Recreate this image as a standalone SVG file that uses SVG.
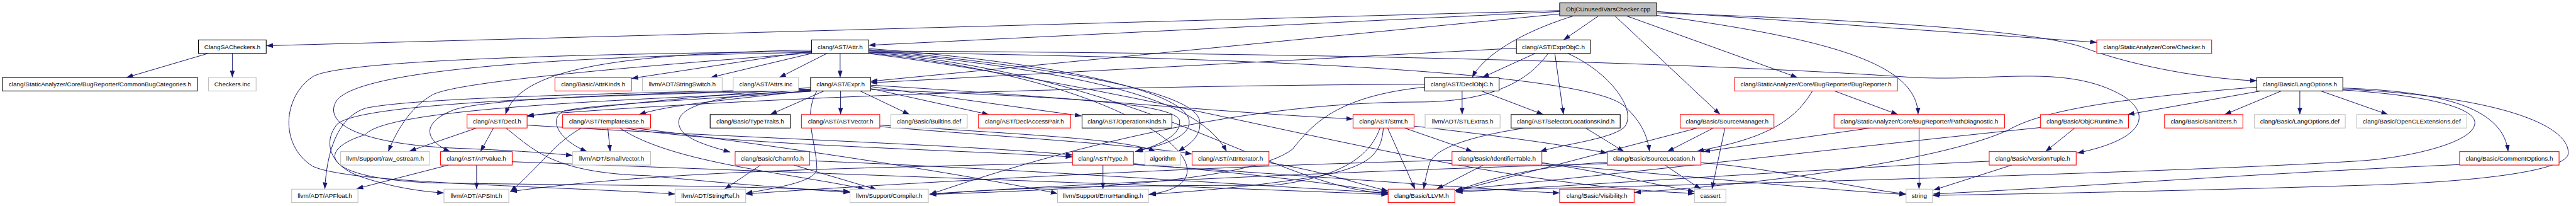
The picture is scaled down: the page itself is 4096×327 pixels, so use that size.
<svg xmlns="http://www.w3.org/2000/svg" width="4096" height="327" viewBox="0 0 4096 327">
<defs>
<style>
.node rect{fill:#fff;stroke-width:1.4}
.k rect{stroke:#000}
.r rect{stroke:#ff0000}
.g rect{stroke:#bfbfbf}
.root rect{fill:#bfbfbf;stroke:#000}
.node text{font-family:"Liberation Sans",Arial,Helvetica,sans-serif;font-size:13px;fill:#000;text-anchor:middle}
#edges path{fill:none;stroke:#191970;stroke-width:1.3;marker-end:url(#a)}
</style>
<marker id="a" markerUnits="userSpaceOnUse" viewBox="0 0 14 10" markerWidth="14" markerHeight="10" refX="14" refY="5" orient="auto"><path d="M0,0L14,5L0,10z" fill="#191970"/></marker>
</defs>
<rect width="4096" height="327" fill="#fff"/>
<g transform="scale(0.764)">
<g id="edges">
<path d="M3246,22 L554,95"/>
<path d="M3246,24 L1808,94"/>
<path d="M3327,33 L3254,83"/>
<path d="M3448,24 L4364,88"/>
<path d="M3246,29 L1812,169"/>
<path d="M3275,33 C3180,62 3090,110 3064,161"/>
<path d="M3385,33 L3741,161"/>
<path d="M3448,27 C4000,45 4260,70 4340,100 C4420,130 4560,162 4697,168"/>
<path d="M3361,33 L3580,238"/>
<path d="M3448,32 C3800,80 3990,130 3992,238"/>
<path d="M433,111 L263,161"/>
<path d="M483.5,111 L483.5,161"/>
<path d="M1748.5,111 L1748.5,161"/>
<path d="M1721,111 L1622,161"/>
<path d="M1689,111 L1479,161"/>
<path d="M1689,106 L1314,163"/>
<path d="M1689,104 C1250,112 1080,150 1052,238"/>
<path d="M1808,101 C2200,130 2470,190 2475,252 C2478,290 2400,305 2362,315"/>
<path d="M1808,103 C2200,140 2490,190 2497,252 C2500,285 2475,300 2452,315"/>
<path d="M1808,105 C2250,150 2490,200 2553,315"/>
<path d="M1808,108 C2400,160 2650,390 2889,402"/>
<path d="M1808,109 C2600,118 3300,150 3380,220 C3420,255 3430,290 3433,315"/>
<path d="M1808,106 C2700,110 3500,128 3967,160 C4150,172 4300,130 4420,200 C4480,240 4460,290 4323,318"/>
<path d="M1689,109 C1100,118 740,150 700,210 C670,260 760,300 950,308 C1080,313 1140,318 1192,323"/>
<path d="M1689,107 C1200,112 700,125 650,160 C590,200 580,300 650,345 C720,380 1100,385 1405,403"/>
<path d="M1808,110 C2400,170 2600,380 2390,404"/>
<path d="M1689,110 C1300,140 950,170 900,197 C860,220 830,260 808,315"/>
<path d="M1808,111 C2500,200 3000,380 3527,402"/>
<path d="M3156,100 L1812,172"/>
<path d="M3195,111 L3085,161"/>
<path d="M3236,111 L3254,238"/>
<path d="M3263,111 C3350,150 3410,230 3380,265 C3350,290 3250,300 3205,315"/>
<path d="M3222,111 C3180,170 3100,212 2950,212 C2550,212 2150,330 1935,404"/>
<path d="M1749.5,189 L1749.5,238"/>
<path d="M1715,189 L1603,238"/>
<path d="M1790,189 L1893,238"/>
<path d="M1812,184 L2058,238"/>
<path d="M1812,180 L2251,241"/>
<path d="M1812,177 C2200,200 2600,238 2816,247"/>
<path d="M1687,182 C1400,205 1200,225 1097,242"/>
<path d="M1690,187 C1550,205 1400,215 1330,238"/>
<path d="M1687,186 C1300,195 1000,205 940,230 C880,255 880,290 937,315"/>
<path d="M1687,187 C1450,198 1400,230 1415,265 C1425,290 1480,305 1520,316"/>
<path d="M1812,186 C2150,200 2440,210 2455,250 C2460,285 2400,305 2365,315"/>
<path d="M1687,185 C1200,195 850,205 760,225 C700,245 680,320 676,393"/>
<path d="M1687,188 C1100,200 730,220 700,260 C670,300 690,350 760,370 C820,390 880,398 924,401"/>
<path d="M1690,189 C1500,205 1250,215 1175,230 C1140,245 1160,290 1222,315"/>
<path d="M1700,189 C1670,240 1700,300 1700,350 C1700,380 1600,392 1552,402"/>
<path d="M1687,190 C1200,210 800,230 760,280 C660,310 660,370 900,380 C1200,385 1600,385 1769,398"/>
<path d="M3043,189 L3043,238"/>
<path d="M3083,189 L3212,238"/>
<path d="M2965,175 C2300,178 1600,200 1097,240"/>
<path d="M2965,181 C2780,200 2730,260 2690,310 C2600,380 2200,395 1935,404"/>
<path d="M3818,189 L3950,238"/>
<path d="M3772,189 C3730,260 3660,290 3532,314"/>
<path d="M3994,266 L3994,393"/>
<path d="M3893,266 L3545,315"/>
<path d="M3566,266 L3470,315"/>
<path d="M3590,266 L3563,393"/>
<path d="M3533,266 L3030,397"/>
<path d="M4748,189 L4630,238"/>
<path d="M4786.5,189 L4786.5,238"/>
<path d="M4830,189 L4970,238"/>
<path d="M4705,189 L4428,238"/>
<path d="M4697,181 C4400,205 4250,230 4180,270 C4050,330 3700,380 3401,400"/>
<path d="M4876,183 C5100,190 5210,230 5220,315"/>
<path d="M4876,187 C5080,200 5160,230 5150,260 C5140,300 5000,330 4900,335 C4500,360 3500,385 3028,396"/>
<path d="M4876,185 C5200,200 5350,260 5345,320 C5340,350 5200,375 4950,384 C4500,398 4200,403 4022,406"/>
<path d="M5119,342 C4700,360 4300,390 4024,403"/>
<path d="M4318,266 L4257,315"/>
<path d="M4247,265 C3900,300 3300,370 3030,394"/>
<path d="M4140,335 C3800,350 3300,385 3030,399"/>
<path d="M4187,343 L4024,395"/>
<path d="M1027,266 L1000,315"/>
<path d="M992,266 L852,314"/>
<path d="M1097,260 C1500,285 2000,300 2232,322"/>
<path d="M1053,266 C1110,310 1150,360 1350,365 C1500,380 1650,392 1769,400"/>
<path d="M1265,266 L1270,315"/>
<path d="M1210,266 C1150,300 1120,350 1062,398"/>
<path d="M1300,266 C1500,300 2000,312 2232,326"/>
<path d="M1290,266 C1400,340 1650,360 1800,393"/>
<path d="M1320,266 C1600,300 2000,360 2201,402"/>
<path d="M1831,263 C2100,285 2350,300 2481,320"/>
<path d="M1831,260 C2150,280 2350,290 2405,315"/>
<path d="M2923,266 L3065,315"/>
<path d="M2888,266 L2945,393"/>
<path d="M2943,262 C3100,280 3250,300 3345,318"/>
<path d="M2872,266 C2850,330 2780,370 2650,385 C2300,385 2100,390 1935,404"/>
<path d="M2879,266 C2875,320 2850,345 2750,365 C2600,390 2450,400 2392,404"/>
<path d="M3173,266 C3050,285 2985,310 2975,340 C2968,365 2965,380 2963,393"/>
<path d="M3300,266 L3380,315"/>
<path d="M992,343 L992,393"/>
<path d="M933,343 L742,392"/>
<path d="M1066,336 C1700,360 2400,385 2889,404"/>
<path d="M1583,343 L1508,393"/>
<path d="M1685,334 C2100,350 2600,385 2889,401"/>
<path d="M1652,343 L1825,394"/>
<path d="M2295.5,343 L2295.5,393"/>
<path d="M2359,340 C2600,360 2800,385 2889,400"/>
<path d="M2359,342 C2800,370 3100,395 3246,401"/>
<path d="M2232,338 C1800,350 1400,352 1062,398"/>
<path d="M2641,338 C2750,355 2820,380 2889,397"/>
<path d="M3087,343 L2990,393"/>
<path d="M3022,333 C2500,345 1800,385 1552,403"/>
<path d="M3209,338 C3350,360 3450,385 3527,398"/>
<path d="M3209,340 C3500,365 3800,395 3967,404"/>
<path d="M3465,343 L3540,393"/>
<path d="M3345,337 C3200,345 3100,370 3030,397"/>
<path d="M3345,340 C2800,355 2200,385 1935,403"/>
<path d="M3540,338 C3700,350 3850,390 3967,403"/>
</g>
<g id="n0" class="node root"><rect x="3246" y="6" width="202" height="27"/><text x="3347" y="23.5">ObjCUnusedIVarsChecker.cpp</text></g>
<g id="n1" class="node k"><rect x="413" y="83" width="141" height="28"/><text x="483.5" y="101.5">ClangSACheckers.h</text></g>
<g id="n2" class="node k"><rect x="1689" y="83" width="119" height="28"/><text x="1748.5" y="101.5">clang/AST/Attr.h</text></g>
<g id="n3" class="node k"><rect x="3156" y="83" width="154" height="28"/><text x="3233" y="101.5">clang/AST/ExprObjC.h</text></g>
<g id="n4" class="node r"><rect x="4364" y="83" width="239" height="28"/><text x="4483.5" y="101.5">clang/StaticAnalyzer/Core/Checker.h</text></g>
<g id="n5" class="node k"><rect x="5" y="161" width="406" height="28"/><text x="208" y="179.5">clang/StaticAnalyzer/Core/BugReporter/CommonBugCategories.h</text></g>
<g id="n6" class="node g"><rect x="434" y="161" width="99" height="28"/><text x="483.5" y="179.5">Checkers.inc</text></g>
<g id="n7" class="node r"><rect x="1155" y="161" width="159" height="28"/><text x="1234.5" y="179.5">clang/Basic/AttrKinds.h</text></g>
<g id="n8" class="node g"><rect x="1337" y="161" width="166" height="28"/><text x="1420" y="179.5">llvm/ADT/StringSwitch.h</text></g>
<g id="n9" class="node g"><rect x="1526" y="161" width="136" height="28"/><text x="1594" y="179.5">clang/AST/Attrs.inc</text></g>
<g id="n10" class="node k"><rect x="1687" y="161" width="125" height="28"/><text x="1749.5" y="179.5">clang/AST/Expr.h</text></g>
<g id="n11" class="node k"><rect x="2965" y="161" width="155" height="28"/><text x="3042.5" y="179.5">clang/AST/DeclObjC.h</text></g>
<g id="n12" class="node r"><rect x="3610" y="161" width="339" height="28"/><text x="3779.5" y="179.5">clang/StaticAnalyzer/Core/BugReporter/BugReporter.h</text></g>
<g id="n13" class="node k"><rect x="4697" y="161" width="179" height="28"/><text x="4786.5" y="179.5">clang/Basic/LangOptions.h</text></g>
<g id="n14" class="node r"><rect x="972" y="238" width="125" height="28"/><text x="1034.5" y="256.5">clang/AST/Decl.h</text></g>
<g id="n15" class="node r"><rect x="1171" y="238" width="183" height="28"/><text x="1262.5" y="256.5">clang/AST/TemplateBase.h</text></g>
<g id="n16" class="node k"><rect x="1478" y="238" width="167" height="28"/><text x="1561.5" y="256.5">clang/Basic/TypeTraits.h</text></g>
<g id="n17" class="node r"><rect x="1668" y="238" width="163" height="28"/><text x="1749.5" y="256.5">clang/AST/ASTVector.h</text></g>
<g id="n18" class="node g"><rect x="1854" y="238" width="159" height="28"/><text x="1933.5" y="256.5">clang/Basic/Builtins.def</text></g>
<g id="n19" class="node r"><rect x="2036" y="238" width="192" height="28"/><text x="2132" y="256.5">clang/AST/DeclAccessPair.h</text></g>
<g id="n20" class="node k"><rect x="2252" y="238" width="187" height="28"/><text x="2345.5" y="256.5">clang/AST/OperationKinds.h</text></g>
<g id="n21" class="node r"><rect x="2816" y="238" width="127" height="28"/><text x="2879.5" y="256.5">clang/AST/Stmt.h</text></g>
<g id="n22" class="node g"><rect x="2966" y="238" width="156" height="28"/><text x="3044" y="256.5">llvm/ADT/STLExtras.h</text></g>
<g id="n23" class="node k"><rect x="3145" y="238" width="227" height="28"/><text x="3258.5" y="256.5">clang/AST/SelectorLocationsKind.h</text></g>
<g id="n24" class="node r"><rect x="3497" y="238" width="195" height="28"/><text x="3594.5" y="256.5">clang/Basic/SourceManager.h</text></g>
<g id="n25" class="node r"><rect x="3817" y="238" width="355" height="28"/><text x="3994.5" y="256.5">clang/StaticAnalyzer/Core/BugReporter/PathDiagnostic.h</text></g>
<g id="n26" class="node r"><rect x="4247" y="238" width="183" height="28"/><text x="4338.5" y="256.5">clang/Basic/ObjCRuntime.h</text></g>
<g id="n27" class="node r"><rect x="4505" y="238" width="163" height="28"/><text x="4586.5" y="256.5">clang/Basic/Sanitizers.h</text></g>
<g id="n28" class="node g"><rect x="4692" y="238" width="189" height="28"/><text x="4786.5" y="256.5">clang/Basic/LangOptions.def</text></g>
<g id="n29" class="node g"><rect x="4905" y="238" width="229" height="28"/><text x="5019.5" y="256.5">clang/Basic/OpenCLExtensions.def</text></g>
<g id="n30" class="node g"><rect x="709" y="315" width="185" height="28"/><text x="801.5" y="333.5">llvm/Support/raw_ostream.h</text></g>
<g id="n31" class="node r"><rect x="917" y="315" width="149" height="28"/><text x="991.5" y="333.5">clang/AST/APValue.h</text></g>
<g id="n32" class="node g"><rect x="1192" y="315" width="162" height="28"/><text x="1273" y="333.5">llvm/ADT/SmallVector.h</text></g>
<g id="n33" class="node r"><rect x="1530" y="315" width="155" height="28"/><text x="1607.5" y="333.5">clang/Basic/CharInfo.h</text></g>
<g id="n34" class="node r"><rect x="2232" y="315" width="127" height="28"/><text x="2295.5" y="333.5">clang/AST/Type.h</text></g>
<g id="n35" class="node g"><rect x="2383" y="315" width="74" height="28"/><text x="2420" y="333.5">algorithm</text></g>
<g id="n36" class="node r"><rect x="2481" y="315" width="160" height="28"/><text x="2561" y="333.5">clang/AST/AttrIterator.h</text></g>
<g id="n37" class="node r"><rect x="3022" y="315" width="187" height="28"/><text x="3115.5" y="333.5">clang/Basic/IdentifierTable.h</text></g>
<g id="n38" class="node r"><rect x="3345" y="315" width="195" height="28"/><text x="3442.5" y="333.5">clang/Basic/SourceLocation.h</text></g>
<g id="n39" class="node r"><rect x="4140" y="315" width="181" height="28"/><text x="4230.5" y="333.5">clang/Basic/VersionTuple.h</text></g>
<g id="n40" class="node r"><rect x="5119" y="315" width="207" height="28"/><text x="5222.5" y="333.5">clang/Basic/CommentOptions.h</text></g>
<g id="n41" class="node g"><rect x="607" y="393" width="138" height="28"/><text x="676" y="411.5">llvm/ADT/APFloat.h</text></g>
<g id="n42" class="node g"><rect x="924" y="393" width="135" height="28"/><text x="991.5" y="411.5">llvm/ADT/APSInt.h</text></g>
<g id="n43" class="node g"><rect x="1405" y="393" width="147" height="28"/><text x="1478.5" y="411.5">llvm/ADT/StringRef.h</text></g>
<g id="n44" class="node g"><rect x="1769" y="393" width="163" height="28"/><text x="1850.5" y="411.5">llvm/Support/Compiler.h</text></g>
<g id="n45" class="node g"><rect x="2201" y="393" width="189" height="28"/><text x="2295.5" y="411.5">llvm/Support/ErrorHandling.h</text></g>
<g id="n46" class="node r"><rect x="2889" y="393" width="139" height="28"/><text x="2958.5" y="411.5">clang/Basic/LLVM.h</text></g>
<g id="n47" class="node r"><rect x="3246" y="393" width="155" height="28"/><text x="3323.5" y="411.5">clang/Basic/Visibility.h</text></g>
<g id="n48" class="node g"><rect x="3527" y="393" width="65" height="28"/><text x="3559.5" y="411.5">cassert</text></g>
<g id="n49" class="node g"><rect x="3967" y="393" width="55" height="28"/><text x="3994.5" y="411.5">string</text></g>
</g>
</svg>
